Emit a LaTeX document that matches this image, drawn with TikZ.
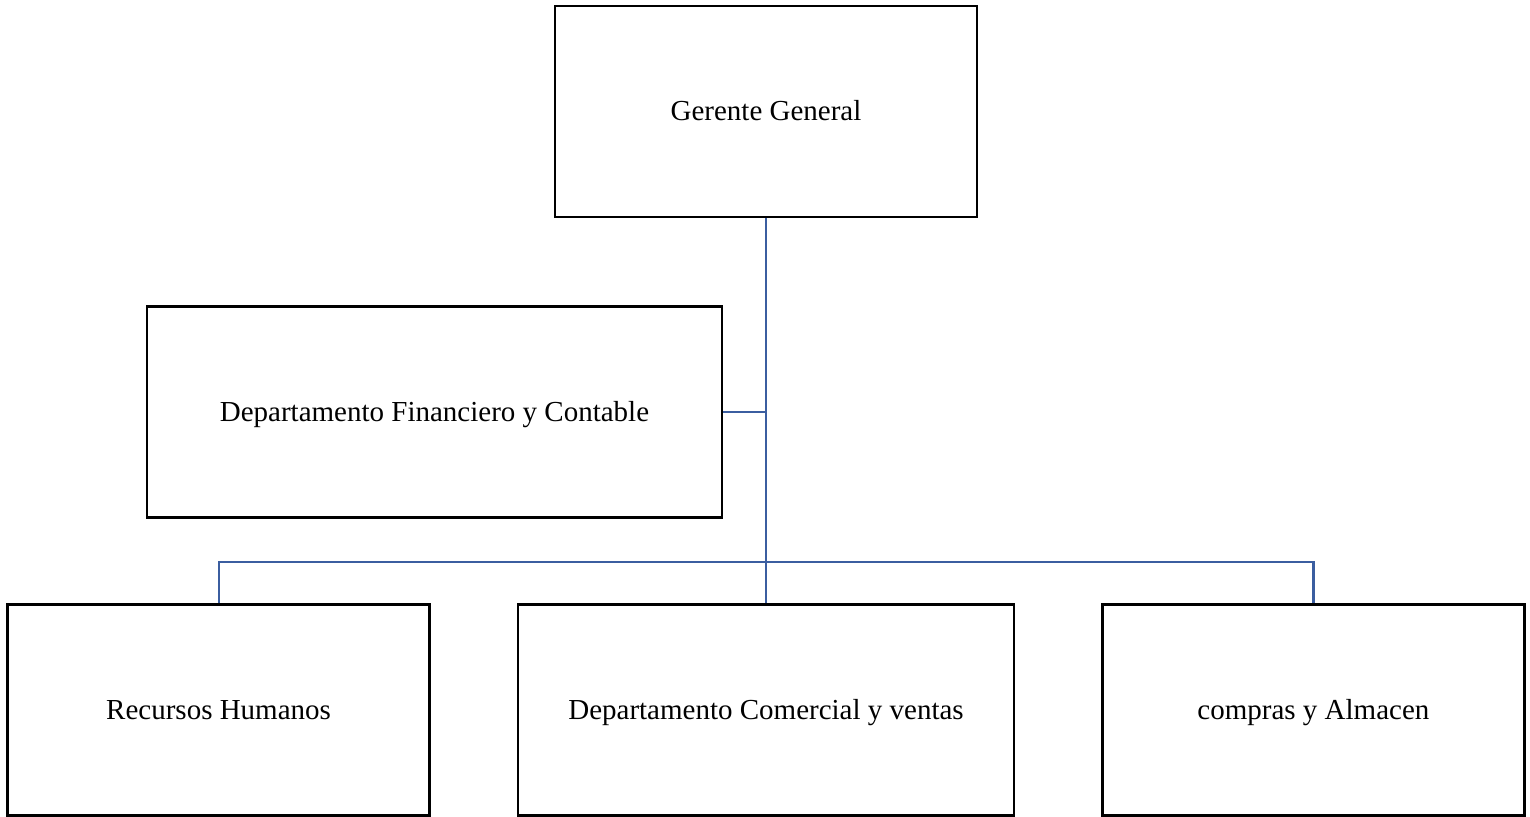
\documentclass[tikz,border=0pt]{standalone}
\usepackage{fontspec}
\setmainfont{Liberation Serif}
\usetikzlibrary{positioning}
\definecolor{linkblue}{RGB}{59,94,160}
\tikzset{
  unit/.style={draw, line width=1.2pt, minimum height=105.5pt, inner sep=0pt,
               text height=12pt, text depth=2.5pt,
               font=\fontsize{14.5}{17}\selectfont},
  link/.style={draw=linkblue, line width=1.1pt}
}
\begin{document}
\begin{tikzpicture}
   \useasboundingbox (0,0) rectangle (765pt,-408.5pt);
   \node[unit, minimum width=211pt] (G) at (383pt,-55.75pt) {Gerente General};
   \node[unit, minimum width=287.5pt] (F) [below=43.5pt of G, xshift=-165.75pt]
        {Departamento Financiero y Contable};
   \node[unit, minimum width=248pt] (C) [below=192.5pt of G]
        {Departamento Comercial y ventas};
   \node[unit, minimum width=211pt] (R) [left=43pt of C] {Recursos Humanos};
   \node[unit, minimum width=211pt] (A) [right=43pt of C] {compras y Almacen};
   \draw[link] (G.south) -- (C.north);
   \draw[link] (F.east) -- (F.east -| G.south);
   \draw[link] (R.north) |- ([yshift=20.5pt]C.north) -| (A.north);
  \end{tikzpicture}
\end{document}
